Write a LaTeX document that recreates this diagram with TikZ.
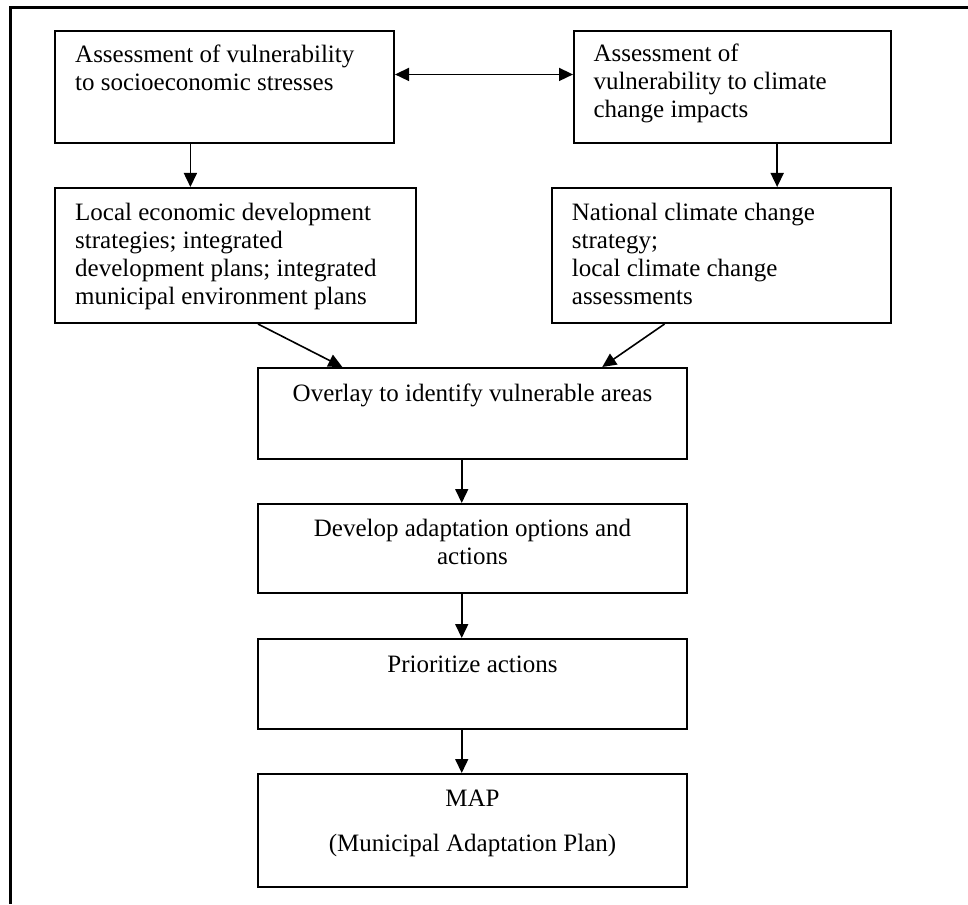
\documentclass[tikz,border=0pt]{standalone}
\usepackage{fontspec}
\setmainfont{Liberation Serif}
\usetikzlibrary{arrows.meta,calc}
\begin{document}
\begin{tikzpicture}[x=1pt,y=-1pt,
  box/.style={draw, line width=2pt, inner sep=0pt},
  conn/.style={line width=1.6pt, -{Triangle[length=14pt,width=13pt]}},
  both/.style={line width=1.6pt, {Triangle[length=14pt,width=13pt]}-{Triangle[length=14pt,width=13pt]}},
  lt/.style={anchor=base west, inner sep=0pt, font=\fontsize{25}{28}\selectfont},
  ct/.style={anchor=base, inner sep=0pt, font=\fontsize{25}{28}\selectfont}]
\useasboundingbox (0,0) rectangle (968,904);
% frame (top and left edges only)
\draw[line width=2.2pt] (968,7.5) -- (10.5,7.5) -- (10.5,904);
% boxes
\node[box, minimum width=339pt, minimum height=112pt] (b1) at (224.5,87) {};
\node[box, minimum width=317pt, minimum height=112pt] (b2) at (732.5,87) {};
\node[box, minimum width=361pt, minimum height=135pt] (b3) at (235.5,255.5) {};
\node[box, minimum width=339pt, minimum height=135pt] (b4) at (721.5,255.5) {};
\node[box, minimum width=429pt, minimum height=91pt] (b5) at (472.5,413.5) {};
\node[box, minimum width=429pt, minimum height=89pt] (b6) at (472.5,548.5) {};
\node[box, minimum width=429pt, minimum height=90pt] (b7) at (472.5,684) {};
\node[box, minimum width=429pt, minimum height=113pt] (b8) at (472.5,830.5) {};
% texts
\node[lt] (t1) at (75,62.7) {\begin{tabular}[t]{@{}l@{}}Assessment of vulnerability\\to socioeconomic stresses\end{tabular}};
\node[lt] (t2) at (593.3,61.7) {\begin{tabular}[t]{@{}l@{}}Assessment of\\vulnerability to climate\\change impacts\end{tabular}};
\node[lt] (t3) at (75,220) {\begin{tabular}[t]{@{}l@{}}Local economic development\\strategies; integrated\\development plans; integrated\\municipal environment plans\end{tabular}};
\node[lt] (t4) at (571.7,220) {\begin{tabular}[t]{@{}l@{}}National climate change\\strategy;\\local climate change\\assessments\end{tabular}};
\node[ct] (t5) at (472.5,401.7) {Overlay to identify vulnerable areas};
\node[ct] (t6) at (472.5,536) {\begin{tabular}[t]{@{}c@{}}Develop adaptation options and\\actions\end{tabular}};
\node[ct] (t7) at (472.5,672.7) {Prioritize actions};
\node[ct] (t8) at (472.5,806.7) {\begin{tabular}[t]{@{}c@{}}MAP\\[17pt](Municipal Adaptation Plan)\end{tabular}};
% connectors
\coordinate (a0) at ($(b1.north east)!0.39!(b1.south east)$);
\draw[both] (a0) -- (a0 -| b2.west);
\coordinate (a1) at ($(b1.south west)!0.4!(b1.south east)$);
\draw[conn] (a1) -- (a1 |- b3.north);
\coordinate (a2) at ($(b2.south west)!0.64!(b2.south east)$);
\draw[conn] (a2) -- (a2 |- b4.north);
\draw[conn] ($(b3.south west)!0.562!(b3.south east)$) -- ($(b5.north west)!0.198!(b5.north east)$);
\draw[conn] ($(b4.south west)!0.333!(b4.south east)$) -- ($(b5.north west)!0.801!(b5.north east)$);
\coordinate (a5) at ($(b5.south west)!0.475!(b5.south east)$);
\draw[conn] (a5) -- (a5 |- b6.north);
\coordinate (a6) at (a5 |- b6.south);
\draw[conn] (a6) -- (a6 |- b7.north);
\coordinate (a7) at (a5 |- b7.south);
\draw[conn] (a7) -- (a7 |- b8.north);
\end{tikzpicture}
\end{document}
